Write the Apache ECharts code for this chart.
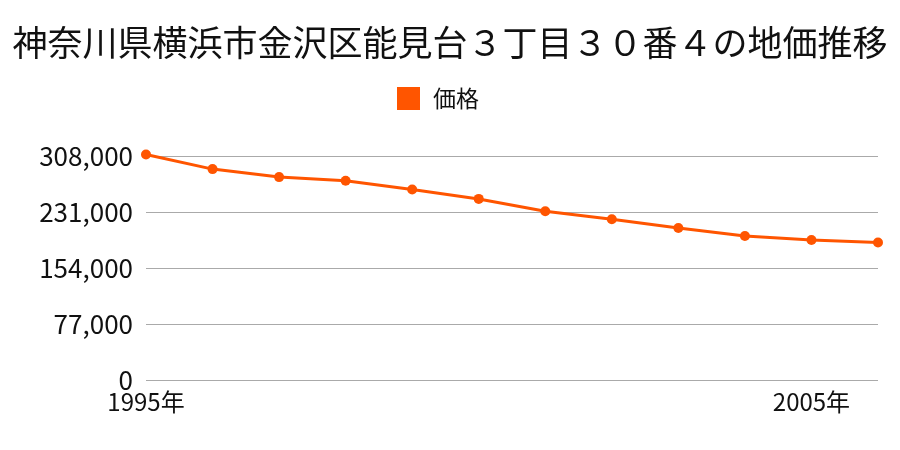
<!DOCTYPE html>
<html><head><meta charset="utf-8">
<script src="https://cdn.jsdelivr.net/npm/echarts@6/dist/echarts.min.js"></script>
<style>html,body{margin:0;padding:0;background:#fff}#c{width:900px;height:450px}</style>
</head><body><div id="c"></div>
<script>
const titleText = '神奈川県横浜市金沢区能見台３丁目３０番４の地価推移';
const seriesName = '価格';
const years = ['1995年','1996年','1997年','1998年','1999年','2000年','2001年','2002年','2003年','2004年','2005年','2006年'];
const prices = [310000, 290000, 279000, 274000, 262000, 249000, 232000, 221000, 209000, 198000, 192500, 189000];
const yMin = 0, yMax = 308000, yStep = 77000;

const font = '"Noto Sans CJK JP", "Noto Sans", sans-serif';
const chart = echarts.init(document.getElementById('c'), null, {renderer: 'canvas'});
chart.setOption({
  animation: false,
  backgroundColor: '#fff',
  title: {
    text: titleText, left: 'center', top: 20,
    textStyle: {fontFamily: font, fontSize: 35, fontWeight: 'normal', color: '#111'}
  },
  legend: {
    data: [{name: seriesName, icon: 'rect'}], top: 82, left: 392,
    itemWidth: 23, itemHeight: 23, itemGap: 13,
    textStyle: {fontFamily: font, fontSize: 23, color: '#111', padding: [0, 0, 0, 8]}
  },
  grid: {left: 146, right: 22, top: 156, bottom: 70, containLabel: false},
  xAxis: {
    type: 'category', data: years, boundaryGap: false,
    axisLine: {show: false}, axisTick: {show: false},
    axisLabel: {interval: 9, fontFamily: font, fontSize: 24, color: '#111', margin: 10}
  },
  yAxis: {
    type: 'value', min: yMin, max: yMax, interval: yStep,
    axisLine: {show: false}, axisTick: {show: false},
    splitLine: {lineStyle: {color: '#aaaaaa', width: 1}},
    axisLabel: {fontFamily: font, fontSize: 26, color: '#111', margin: 13,
      formatter: v => v.toLocaleString('en-US')}
  },
  series: [{
    name: seriesName, type: 'line', data: prices, clip: false,
    symbol: 'circle', symbolSize: 10,
    lineStyle: {color: '#ff5500', width: 3},
    itemStyle: {color: '#ff5500'}
  }]
});
</script></body></html>
